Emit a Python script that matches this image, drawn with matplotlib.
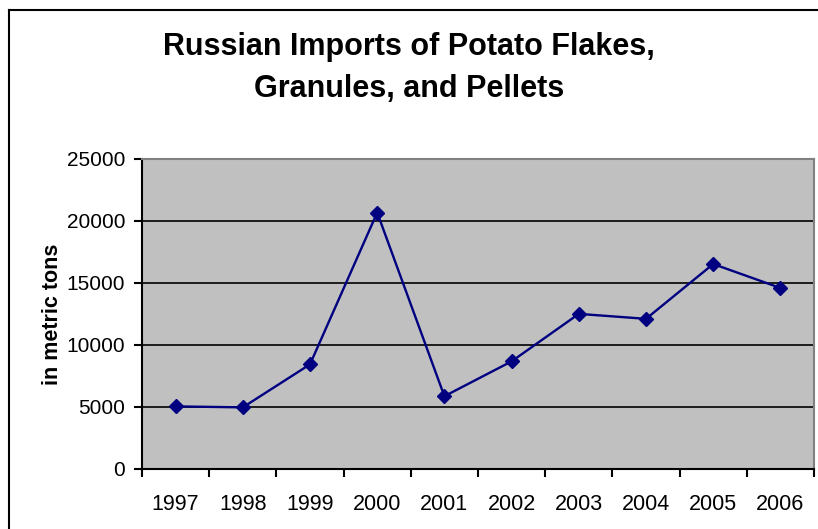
import numpy as np
import matplotlib.pyplot as plt
from matplotlib.lines import Line2D

years = ['1997', '1998', '1999', '2000', '2001', '2002', '2003', '2004', '2005', '2006']
imports = [5050, 4970, 8440, 20680, 5870, 8680, 12510, 12110, 16530, 14600]
yticks = [0, 5000, 10000, 15000, 20000, 25000]

plt.rcParams['font.family'] = ['Liberation Sans', 'DejaVu Sans']

W, H = 818, 529
fig = plt.figure(figsize=(W / 100, H / 100), dpi=100)
fig.patch.set_facecolor('white')

# chart frame (only left and top edges fall inside the picture)
fig.add_artist(Line2D([9 / W, 9 / W], [0, 1 - 10 / H], color='black', lw=1.5))
fig.add_artist(Line2D([9 / W, 1], [1 - 10 / H, 1 - 10 / H], color='black', lw=1.5))

ax = fig.add_axes([142 / W, (H - 469) / H, 672 / W, 310 / H])
ax.set_facecolor('#C0C0C0')

x = np.arange(len(years))
ax.plot(x, imports, color='#000080', lw=1.7, marker='D', markersize=7.5,
        markerfacecolor='#000080', markeredgecolor='#000080', zorder=3)

ax.set_xlim(-0.5, len(years) - 0.5)
ax.set_ylim(0, 25000)
ax.set_yticks(yticks)
ax.set_yticklabels([str(v) for v in yticks], fontsize=15)
ax.set_xticks(np.arange(-0.5, len(years), 1.0))
ax.set_xticklabels([])
ax.set_xticks(x, minor=True)
ax.set_xticklabels(years, minor=True, fontsize=15.5)
ax.tick_params(axis='x', which='minor', length=0, pad=18)
ax.tick_params(axis='x', which='major', direction='out', length=6, width=1.5)
ax.tick_params(axis='y', direction='out', length=6, width=1.5, pad=6)

for v in yticks[1:-1]:
    ax.axhline(v, color='black', lw=1.2, zorder=1)

ax.spines['left'].set_color('black')
ax.spines['left'].set_linewidth(1.5)
ax.spines['bottom'].set_color('black')
ax.spines['bottom'].set_linewidth(1.5)
ax.spines['top'].set_color('#808080')
ax.spines['top'].set_linewidth(1.5)
ax.spines['right'].set_color('#808080')
ax.spines['right'].set_linewidth(1.5)

ax.set_ylabel('in metric tons', fontsize=15.5, fontweight='bold', labelpad=3)

fig.text(0.5, 1 - 68 / H, 'Russian Imports of Potato Flakes,\nGranules, and Pellets',
         ha='center', va='center', fontsize=22, fontweight='bold', linespacing=1.5)

fig.savefig('out.png', dpi=100)
